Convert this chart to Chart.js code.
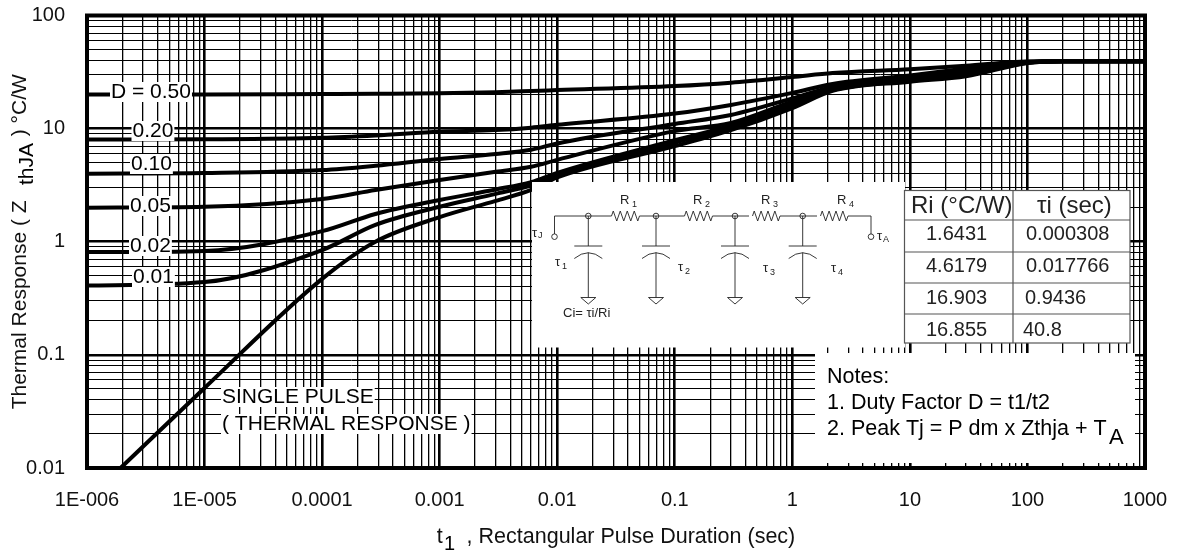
<!DOCTYPE html>
<html>
<head>
<meta charset="utf-8">
<title>Thermal Response</title>
<script src="https://cdn.jsdelivr.net/npm/chart.js@4/dist/chart.umd.min.js"></script>
<style>
    html, body { margin: 0; padding: 0; background: #fff; }
    canvas { display: block; }
</style>
</head>
<body>
<canvas id="thermalChart" width="1181" height="550"></canvas>
<script>
// Pulse durations (sec)
const pulseTimes = [1e-6, 1e-5, 1e-4, 2.84e-4, 1e-3, 3e-3, 6e-3, 0.01, 0.1, 0.3, 1, 2.2, 10, 30, 100, 200, 1000];
const singleTimes = [1.93e-6, 1e-5, 1e-4, 2.84e-4, 1e-3, 3e-3, 6e-3, 0.01, 0.1, 0.3, 1, 2.2, 10, 30, 100, 200, 1000];

// Thermal response per duty factor (C/W)
const d50 = [20, 20, 20.2, 20.3, 20.5, 21, 21.5, 21.9, 23.8, 25.5, 28.6, 31, 33.5, 36, 39.3, 39.5, 39.5];
const d20 = [8, 8.05, 8.3, 8.7, 9.4, 9.7, 10.2, 10.8, 13.6, 16.2, 20.7, 24.8, 29.5, 34, 39, 39.5, 39.5];
const d10 = [4, 4.05, 4.3, 4.7, 5.4, 5.96, 6.5, 7.4, 11, 13.2, 18.5, 23.4, 28.5, 33, 38.8, 39.5, 39.5];
const d05 = [2, 2.04, 2.39, 2.87, 3.52, 4.16, 4.6, 5.3, 9.5, 11.2, 17.3, 22, 27.5, 32, 38.5, 39.5, 39.5];
const d02 = [0.81, 0.83, 1.24, 1.76, 2.34, 2.9, 3.37, 4.07, 7.9, 10.6, 16.5, 22.5, 26.8, 30.5, 38.5, 39.5, 39.5];
const d01 = [0.41, 0.44, 0.845, 1.41, 2.04, 2.65, 3.16, 3.85, 7.5, 10.2, 16, 22, 26.5, 30, 38.2, 39.5, 39.5];
const single = [0.01, 0.051, 0.47, 1, 1.65, 2.3, 2.87, 3.7, 7, 9.7, 15.2, 21.6, 26, 29, 38, 39.5, 39.5];

// Tick labels
const xDecades = [1e-6, 1e-5, 1e-4, 1e-3, 0.01, 0.1, 1, 10, 100, 1000];
const xTickLabels = ["1E-006", "1E-005", "0.0001", "0.001", "0.01", "0.1", "1", "10", "100", "1000"];
const yDecades = [0.01, 0.1, 1, 10, 100];
const yTickLabels = ["0.01", "0.1", "1", "10", "100"];

// Stray orange mark on the 0.02 curve
const markerTime = [2.84e-4];
const markerValue = [1.76];

// Inset table
const tableHead = ["Ri (°C/W)", "τi (sec)"];
const tableRi = ["1.6431", "4.6179", "16.903", "16.855"];
const tableTau = ["0.000308", "0.017766", "0.9436", "40.8"];

const FONT = '"Liberation Sans", Arial, sans-serif';

function curve(label, times, values) {
    return {
        label: label,
        data: times.map((t, i) => ({ x: t, y: values[i] })),
        showLine: true,
        borderColor: "#000",
        borderWidth: 4,
        pointRadius: 0,
        cubicInterpolationMode: "monotone",
        clip: false
    };
}

function isDecade(v) {
    let l = Math.log10(v);
    return Math.abs(l - Math.round(l)) < 1e-6;
}

// All 1..9 gridlines per decade
function fullLogTicks(decades) {
    let out = [];
    decades.forEach((d, i) => {
        if (i == decades.length - 1) { out.push({ value: d }); return; }
        for (let m = 1; m < 10; m++) out.push({ value: d * m });
    });
    return out;
}

function text(ctx, str, x, y, size, align) {
    ctx.font = size + "px " + FONT;
    ctx.textAlign = align || "left";
    ctx.textBaseline = "middle";
    ctx.fillText(str, x, y);
}

// Text on a white patch that interrupts the grid
function patchText(ctx, str, x, y, size) {
    ctx.font = size + "px " + FONT;
    let w = ctx.measureText(str).width;
    ctx.fillStyle = "#fff";
    ctx.fillRect(x - 1, y - 10, w + 2, 20);
    ctx.fillStyle = "#000";
    text(ctx, str, x, y, size);
}

function resistor(ctx, x1, x2, y) {
    let step = (x2 - x1) / 8;
    ctx.beginPath();
    ctx.moveTo(x1, y);
    for (let i = 0; i < 8; i++) {
        let dy = i % 2 == 0 ? -5 : 5;
        ctx.lineTo(x1 + step * (i + 0.5), y + dy);
    }
    ctx.lineTo(x2, y);
    ctx.stroke();
}

function capacitor(ctx, x) {
    ctx.beginPath();
    ctx.moveTo(x, 216); ctx.lineTo(x, 246);
    ctx.moveTo(x - 14, 246); ctx.lineTo(x + 14, 246);
    ctx.moveTo(x - 14, 258.5); ctx.quadraticCurveTo(x, 247, x + 14, 258.5);
    ctx.moveTo(x, 252.5); ctx.lineTo(x, 297.5);
    ctx.moveTo(x - 7.5, 297.5); ctx.lineTo(x + 7.5, 297.5); ctx.lineTo(x, 304); ctx.closePath();
    ctx.stroke();
    ctx.beginPath();
    ctx.arc(x, 216, 2.8, 0, Math.PI * 2);
    ctx.stroke();
}

function drawCircuit(ctx) {
    ctx.strokeStyle = "#222";
    ctx.fillStyle = "#222";
    ctx.lineWidth = 0.9;
    ctx.beginPath();
    ctx.moveTo(554.5, 234); ctx.lineTo(554.5, 216); ctx.lineTo(611.5, 216);
    ctx.moveTo(639.5, 216); ctx.lineTo(684.5, 216);
    ctx.moveTo(712.5, 216); ctx.lineTo(749, 216);
    ctx.moveTo(780, 216); ctx.lineTo(817, 216);
    ctx.moveTo(848, 216); ctx.lineTo(871, 216); ctx.lineTo(871, 234);
    ctx.stroke();
    resistor(ctx, 611.5, 639.5, 216);
    resistor(ctx, 684.5, 712.5, 216);
    resistor(ctx, 752.5, 780, 216);
    resistor(ctx, 820.5, 848, 216);
    [588.3, 656, 735, 802.7].forEach(x => capacitor(ctx, x));
    ctx.beginPath(); ctx.arc(554.5, 236.7, 2.8, 0, Math.PI * 2); ctx.stroke();
    ctx.beginPath(); ctx.arc(871, 236.7, 2.8, 0, Math.PI * 2); ctx.stroke();

    [["R", 620, 632, "1"], ["R", 693, 705, "2"], ["R", 761, 773, "3"], ["R", 837, 849, "4"]].forEach(r => {
        text(ctx, r[0], r[1], 200, 13);
        text(ctx, r[3], r[2], 205, 9);
    });
    [[555, 262, "1"], [678, 267, "2"], [763, 268, "3"], [831, 268, "4"]].forEach(t => {
        text(ctx, "τ", t[0], t[1], 13);
        text(ctx, t[2], t[0] + 7, t[1] + 5, 9);
    });
    text(ctx, "τ", 532, 233, 13); text(ctx, "J", 538, 236, 9);
    text(ctx, "τ", 877, 236, 13); text(ctx, "A", 883, 240, 9);
    text(ctx, "Ci= τi/Ri", 563, 313, 13);
}

function drawTable(ctx) {
    ctx.fillStyle = "#fff";
    ctx.fillRect(904, 190, 226, 153);
    ctx.strokeStyle = "#555";
    ctx.lineWidth = 1.2;
    ctx.strokeRect(904.5, 190.5, 225.5, 152.5);
    ctx.beginPath();
    [220, 252, 283, 314].forEach(y => { ctx.moveTo(904, y); ctx.lineTo(1130, y); });
    ctx.moveTo(1013, 190); ctx.lineTo(1013, 343);
    ctx.stroke();
    ctx.fillStyle = "#222";
    text(ctx, tableHead[0], 911, 206, 24);
    text(ctx, tableHead[1], 1037, 206, 24);
    let rowY = [234, 266, 298, 330];
    let tauX = [1026, 1026, 1025, 1023];
    tableRi.forEach((v, i) => text(ctx, v, 926, rowY[i], 20));
    tableTau.forEach((v, i) => text(ctx, v, tauX[i], rowY[i], 20));
}

// Everything printed over the plot: curve labels, circuit, table, notes, frame
const overlay = {
    id: "overlay",
    afterDatasetsDraw(chart) {
        let ctx = chart.ctx;
        let a = chart.chartArea;
        ctx.save();

        patchText(ctx, "D = 0.50", 111, 92, 21);
        patchText(ctx, "0.20", 132.5, 131, 21);
        patchText(ctx, "0.10", 131, 164, 21);
        patchText(ctx, "0.05", 130, 206, 21);
        patchText(ctx, "0.02", 130, 246, 21);
        patchText(ctx, "0.01", 133, 277, 21);
        patchText(ctx, "SINGLE PULSE", 222, 397, 21);
        patchText(ctx, "( THERMAL RESPONSE )", 222, 424, 21);

        // Circuit panel and notes panel
        ctx.fillStyle = "#fff";
        ctx.fillRect(532, 182, 373, 165.5);
        ctx.fillRect(815, 353, 320, 110);
        drawCircuit(ctx);
        drawTable(ctx);

        ctx.fillStyle = "#000";
        text(ctx, "Notes:", 827, 377, 21.5);
        text(ctx, "1. Duty Factor D = t1/t2", 827, 403, 21.5);
        text(ctx, "2. Peak Tj = P dm x Zthja + T", 827, 429, 21.5);
        text(ctx, "A", 1109, 438, 22);

        // Plot frame
        ctx.strokeStyle = "#000";
        ctx.lineWidth = 4;
        ctx.strokeRect(a.left, a.top, a.right - a.left, a.bottom - a.top);

        // Subscripts next to the axis titles
        text(ctx, "1", 444, 544, 20);
        ctx.translate(27, 164);
        ctx.rotate(-Math.PI / 2);
        text(ctx, "thJA", 0, 0, 21, "center");
        ctx.restore();
    }
};

const datasets = [
    curve("D = 0.50", pulseTimes, d50),
    curve("0.20", pulseTimes, d20),
    curve("0.10", pulseTimes, d10),
    curve("0.05", pulseTimes, d05),
    curve("0.02", pulseTimes, d02),
    curve("0.01", pulseTimes, d01),
    curve("SINGLE PULSE", singleTimes, single),
    {
        label: "mark",
        data: markerTime.map((t, i) => ({ x: t, y: markerValue[i] })),
        pointStyle: "rect",
        pointRadius: 2,
        pointBackgroundColor: "#e07810",
        pointBorderWidth: 0
    }
];

new Chart(document.getElementById("thermalChart"), {
    type: "scatter",
    data: { datasets: datasets },
    options: {
        responsive: false,
        animation: false,
        layout: { padding: { top: 15.5, right: 36, left: 0, bottom: 0 } },
        plugins: { legend: { display: false }, tooltip: { enabled: false } },
        scales: {
            x: {
                type: "logarithmic",
                min: 1e-6,
                max: 1000,
                afterBuildTicks: s => { s.ticks = fullLogTicks(xDecades); },
                afterFit: s => { s.height = 82; s.paddingLeft = 0; s.paddingRight = 0; },
                border: { display: false },
                grid: {
                    color: "#000",
                    drawTicks: false,
                    lineWidth: c => (c.tick && isDecade(c.tick.value) ? 2.6 : 1.3)
                },
                ticks: {
                    color: "#111",
                    font: { family: FONT, size: 20 },
                    padding: 20,
                    autoSkip: false,
                    maxRotation: 0,
                    callback: v => {
                        let i = xDecades.findIndex(d => Math.abs(d / v - 1) < 1e-6);
                        return i >= 0 ? xTickLabels[i] : "";
                    }
                },
                title: {
                    display: true,
                    text: "t    , Rectangular Pulse Duration (sec)",
                    color: "#111",
                    font: { family: FONT, size: 21.5 },
                    padding: { top: 13, bottom: 0 }
                }
            },
            y: {
                type: "logarithmic",
                min: 0.01,
                max: 100,
                afterBuildTicks: s => { s.ticks = fullLogTicks(yDecades); },
                afterFit: s => { s.width = 87; s.paddingTop = 0; s.paddingBottom = 0; },
                border: { display: false },
                grid: {
                    color: "#000",
                    drawTicks: false,
                    lineWidth: c => (c.tick && isDecade(c.tick.value) ? 2.6 : 1)
                },
                ticks: {
                    color: "#111",
                    font: { family: FONT, size: 20 },
                    padding: 22,
                    autoSkip: false,
                    callback: v => {
                        let i = yDecades.findIndex(d => Math.abs(d / v - 1) < 1e-6);
                        return i >= 0 ? yTickLabels[i] : "";
                    }
                },
                title: {
                    display: true,
                    text: "Thermal Response ( Z           ) °C/W",
                    color: "#111",
                    font: { family: FONT, size: 21 },
                    padding: { top: 8, bottom: 0 }
                }
            }
        }
    },
    plugins: [overlay]
});
</script>
</body>
</html>
